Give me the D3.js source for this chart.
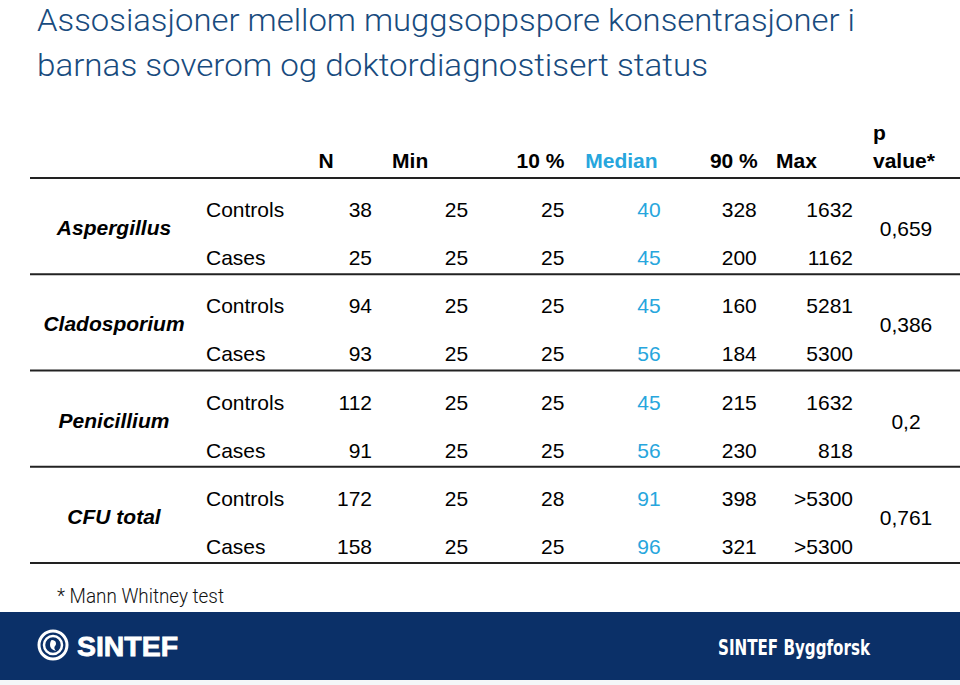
<!DOCTYPE html>
<html>
<head>
<meta charset="utf-8">
<script src="https://cdn.jsdelivr.net/npm/d3@7/dist/d3.min.js"></script>
<style>
html,body{margin:0;padding:0;background:#fff;}
svg{display:block;}
</style>
</head>
<body>
<svg id="chart" width="960" height="685"></svg>
<script>
// ---- data ----
const titleLines = ["Assosiasjoner mellom muggsoppspore konsentrasjoner i", "barnas soverom og doktordiagnostisert status"];
const groups = ["Aspergillus", "Cladosporium", "Penicillium", "CFU total"];
const subgroups = ["Controls", "Cases"];
const columns = ["N", "Min", "10 %", "Median", "90 %", "Max"];
const colN      = ["38", "25", "94", "93", "112", "91", "172", "158"];
const colMin    = ["25", "25", "25", "25", "25", "25", "25", "25"];
const col10     = ["25", "25", "25", "25", "25", "25", "28", "25"];
const colMedian = ["40", "45", "45", "56", "45", "56", "91", "96"];
const col90     = ["328", "200", "160", "184", "215", "230", "398", "321"];
const colMax    = ["1632", "1162", "5281", "5300", "1632", "818", ">5300", ">5300"];
const pValues   = ["0,659", "0,386", "0,2", "0,761"];
const pHeader   = ["p", "value*"];
const footnote  = "* Mann Whitney test";
const footerLeft = "SINTEF";
const footerRight = "SINTEF Byggforsk";

const valueCols = [colN, colMin, col10, colMedian, col90, colMax];

// ---- layout ----
const svg = d3.select("#chart");
const W = 960, H = 685;
const darkBlue = "#0b3068";
const titleBlue = "#184b7e";
const medianBlue = "#27a6dd";
const font = "'Liberation Sans', Arial, Helvetica, sans-serif";

// title
svg.append("g").selectAll("text").data(titleLines).join("text")
  .attr("x", 37)
  .attr("y", (d, i) => 30.5 + i * 45)
  .attr("font-family", "Roboto, 'DejaVu Sans', sans-serif")
  .attr("font-weight", 300)
  .attr("font-size", 32)
  .attr("fill", titleBlue)
  .attr("textLength", (d, i) => i === 0 ? 818 : 671)
  .attr("lengthAdjust", "spacingAndGlyphs")
  .text(d => d);

// scales
const yGroup = d3.scaleBand().domain(groups).range([178, 563]).paddingInner(0).paddingOuter(0);
const ySub = d3.scalePoint().domain(subgroups).range([39, 87]);
const xCol = d3.scalePoint().domain(columns).range([372, 853]);

const table = svg.append("g");

// header
const headerAnchor = {"N": ["middle", -46], "Min": ["middle", -58], "10 %": ["end", 0], "Median": ["end", -3], "90 %": ["end", 1], "Max": ["start", -77]};
table.append("g").selectAll("text").data(columns).join("text")
  .attr("x", d => xCol(d) + headerAnchor[d][1])
  .attr("y", 168)
  .attr("text-anchor", d => headerAnchor[d][0])
  .attr("font-family", font)
  .attr("font-weight", "bold")
  .attr("font-size", 21)
  .attr("fill", d => d === "Median" ? medianBlue : "#000")
  .text(d => d);

table.append("g").selectAll("text").data(pHeader).join("text")
  .attr("x", 873)
  .attr("y", (d, i) => 140 + i * 28)
  .attr("font-family", font)
  .attr("font-weight", "bold")
  .attr("font-size", 21)
  .attr("fill", "#000")
  .text(d => d);

// separator lines
const lineYs = [178].concat(groups.map(g => yGroup(g) + yGroup.bandwidth()));
table.append("g").selectAll("line").data(lineYs).join("line")
  .attr("x1", 30).attr("x2", 960)
  .attr("y1", d => d).attr("y2", d => d)
  .attr("stroke", "#222")
  .attr("stroke-width", 1.8);

// group labels
table.append("g").selectAll("text").data(groups).join("text")
  .attr("x", 114)
  .attr("y", d => yGroup(d) + 57)
  .attr("text-anchor", "middle")
  .attr("font-family", font)
  .attr("font-weight", "bold")
  .attr("font-style", "italic")
  .attr("font-size", 21)
  .attr("fill", "#000")
  .text(d => d);

// p values
table.append("g").selectAll("text").data(pValues).join("text")
  .attr("x", 906)
  .attr("y", (d, i) => yGroup(groups[i]) + 58)
  .attr("text-anchor", "middle")
  .attr("font-family", font)
  .attr("font-size", 21)
  .attr("fill", "#000")
  .text(d => d);

// rows
const rows = [];
groups.forEach((g, gi) => subgroups.forEach((s, si) => rows.push({g, s, idx: gi * 2 + si})));

const rowG = table.append("g").selectAll("g").data(rows).join("g")
  .attr("transform", d => `translate(0,${yGroup(d.g) + ySub(d.s)})`);

rowG.append("text")
  .attr("x", 206).attr("y", 0)
  .attr("font-family", font)
  .attr("font-size", 21)
  .attr("fill", "#000")
  .text(d => d.s);

columns.forEach((c, ci) => {
  rowG.append("text")
    .attr("x", xCol(c)).attr("y", 0)
    .attr("text-anchor", "end")
    .attr("font-family", font)
    .attr("font-size", 21)
    .attr("fill", c === "Median" ? medianBlue : "#000")
    .text(d => valueCols[ci][d.idx]);
});

// footnote
svg.append("text")
  .attr("x", 57).attr("y", 603)
  .attr("font-family", "Roboto, 'DejaVu Sans', sans-serif")
  .attr("font-weight", 300)
  .attr("font-size", 21)
  .attr("fill", "#111")
  .attr("textLength", 167)
  .attr("lengthAdjust", "spacingAndGlyphs")
  .text(footnote);

// footer band
svg.append("rect").attr("x", 0).attr("y", 612).attr("width", W).attr("height", 68).attr("fill", darkBlue);
svg.append("rect").attr("x", 0).attr("y", 680).attr("width", W).attr("height", 5).attr("fill", "#f4f6f8");

// logo icon
const logo = svg.append("g").attr("transform", "translate(53,645)");
logo.append("circle").attr("r", 14).attr("fill", "none").attr("stroke", "#fff").attr("stroke-width", 3);
logo.append("circle").attr("r", 9).attr("fill", "none").attr("stroke", "#fff").attr("stroke-width", 2.5);
logo.append("path")
  .attr("d", "M-1,-5 C3,-5 4,-1 2,1 C1,2 1,4 3,6 C-1,5 -3,3 -3,0 C-3,-3 -2,-5 -1,-5 Z")
  .attr("fill", "#fff");

svg.append("text")
  .attr("x", 77).attr("y", 656)
  .attr("font-family", font)
  .attr("font-weight", 900)
  .attr("font-size", 28)
  .attr("fill", "#fff")
  .attr("stroke", "#fff")
  .attr("stroke-width", 0.8)
  .attr("textLength", 101)
  .attr("lengthAdjust", "spacingAndGlyphs")
  .text(footerLeft);

svg.append("text")
  .attr("x", 718).attr("y", 655)
  .attr("font-family", "'DejaVu Sans Condensed', 'DejaVu Sans', sans-serif")
  .attr("font-weight", "bold")
  .attr("font-size", 22)
  .attr("fill", "#fff")
  .attr("textLength", 152)
  .attr("lengthAdjust", "spacingAndGlyphs")
  .text(footerRight);
</script>
</body>
</html>
